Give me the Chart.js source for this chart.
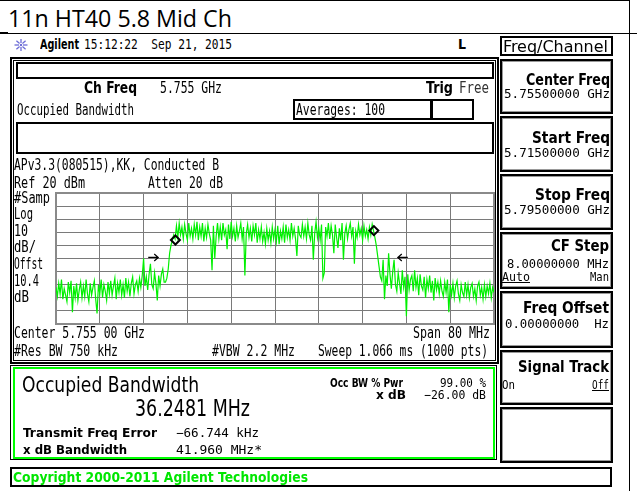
<!DOCTYPE html>
<html><head><meta charset="utf-8">
<script src="https://cdn.jsdelivr.net/npm/chart.js@4.4.1/dist/chart.umd.min.js"></script>
<style>
html,body{margin:0;padding:0;background:#fff;}
#root{position:relative;width:637px;height:491px;overflow:hidden;background:#fff;}
.t{position:absolute;white-space:pre;transform-origin:0 0;}
.b{position:absolute;box-sizing:border-box;}
#plot{position:absolute;left:55px;top:192px;}
</style></head><body><div id="root"><canvas id="plot" width="440" height="133"></canvas></div>
<script>
// ---------- DATA ----------
const freqStartMHz = 5715;
const freqStopMHz = 5795;
const freqDivMHz = 8;
const refLevelDbm = 20;
const bottomLevelDbm = -80;
const dbPerDiv = 10;
// trace, dBm, evenly spaced from start to stop frequency
const traceDbm = [
-52,-59,-49,-57,-46,-61,-53,-58,-63,-48,-56,-47,-71,-51,-60,-49,-62,-54,-48,-60,
-51,-59,-46,-57,-63,-49,-58,-52,-47,-61,-72,-50,-57,-46,-60,-50,-55,-62,-48,-57,
-47,-58,-51,-45,-61,-49,-56,-46,-58,-50,-60,-45,-55,-48,-59,-49,-44,-57,-50,-47,
-55,-45,-52,-43,-30,-51,-44,-54,-42,-34,-50,-53,-41,-49,-62,-43,-51,-42,-38,-48,
-48,-45,-38,-26,-20,-16,-12,-15,-5,-14,-3,-12,-6,-15,-4,-11,-16,-3,-13,-7,
-15,-4,-12,-2,-16,-6,-13,-3,-17,-7,-14,-4,-11,-16,-39,-5,-30,-13,-3,-15,
-6,-16,-3,-12,-8,-23,-4,-15,-2,-13,-7,-17,-5,-14,-9,-3,-15,-6,-43,-11,
-4,-14,-7,-17,-5,-12,-3,-18,-8,-15,-6,-17,-10,-19,-7,-16,-9,-18,-6,-15,
-8,-17,-5,-19,-9,-15,-6,-18,-4,-14,-8,-16,-3,-13,-7,-15,-28,-5,-12,-14,
-4,-13,-6,-15,-3,-12,-16,-5,-31,-11,-2,-14,-7,-16,-4,-45,-41,-6,-13,-3,
-15,-5,-12,-26,-4,-14,-22,-7,-16,-3,-31,-11,-5,-15,-8,-3,-13,-6,-34,-9,
-14,-4,-12,-7,-16,-5,-13,-8,-15,-6,-12,-4,-9,-14,-20,-28,-36,-44,-47,-31,
-61,-43,-51,-26,-42,-53,-40,-31,-50,-55,-41,-49,-57,-39,-52,-44,-74,-42,-54,-46,
-43,-55,-39,-52,-45,-58,-42,-51,-54,-44,-60,-46,-53,-43,-56,-47,-62,-45,-54,-48,
-57,-47,-55,-59,-48,-56,-46,-71,-50,-58,-49,-60,-51,-47,-57,-62,-50,-56,-59,-48,
-58,-50,-60,-52,-49,-59,-53,-62,-51,-48,-58,-52,-61,-50,-59,-51,-57,-49,-60,-52,-56
];
// occupied-bandwidth markers (diamonds), MHz / dBm
const occMarkerMHz = [5736.81, 5773.06];
const occMarkerDbm = [-15.9, -8.7];
// x dB bandwidth arrows, MHz / dBm / direction
const xdbArrowMHz = [5732.76, 5778.34];
const xdbArrowDbm = [-29.2, -29.2];
const xdbArrowDir = [1, -1];

// ---------- LAYOUT HELPERS ----------
const root = document.getElementById('root');
function R(x,y,w,h,css){
  const d=document.createElement('div'); d.className='b';
  d.style.cssText = `left:${x}px;top:${y}px;width:${w}px;height:${h}px;` + (css||'');
  root.appendChild(d); return d;
}
function T(x, base, s, font, w, opt){
  opt = opt || {};
  const el = document.createElement('div');
  el.className = 't';
  el.style.font = font;
  el.style.lineHeight = '0.85';
  el.style.color = opt.color || '#000';
  if (opt.u) el.style.textDecoration = 'underline';
  el.textContent = s;
  const m = document.createElement('span');
  m.style.cssText = 'display:inline-block;width:0;height:0;vertical-align:baseline;';
  el.appendChild(m);
  el.style.left='0px'; el.style.top='0px';
  root.appendChild(el);
  const nat = el.getBoundingClientRect().width;
  const b = m.offsetTop;
  const ww = w || nat;
  const sx = w ? w/nat : 1;
  el.style.left = (opt.r ? x - ww : x) + 'px';
  el.style.top = (base - b) + 'px';
  el.style.transform = `scaleX(${sx})`;
}
const MONO = '"DejaVu Sans Mono", monospace';
const COND = '"DejaVu Sans Condensed", "DejaVu Sans", sans-serif';
const r14 = `15px ${MONO}`;
const b14 = `bold 15px ${COND}`;

// ---------- FRAMES ----------
R(0,0,630,1,'background:#000');
R(629,0,1,491,'background:#000');
R(0,33,637,1,'background:#000');
R(0,32,8,2,'background:#000');
// upper panel
R(10,57,489,307,'border:2px solid #000;box-shadow:inset 0 0 0 1px #fff, inset 0 0 0 2px #000;');
R(16,62,478,17,'border:2px solid #000;');
R(293,99,181,21,'border:2px solid #000;');
R(430,99,3,21,'background:#000;');
R(16,122,478,32,'border:2px solid #000;');
// result box
R(10,365,487,95,'border:1px solid #000;');
R(13,367,482,92,'border:2px solid #00ff00;');
// copyright
R(10,467,602,20,'border:2px solid #000;');
// softkeys
R(500,36,113,20,'border:2px solid #000;');
[[59,55],[116,56],[174,56],[232,57],[291,57],[350,55],[407,56]].forEach(([y,h])=>
  R(500,y,113,h,'border:2px solid #000;box-shadow:inset 0 0 0 1px #999;'));

// star icon
(function(){
  const s = document.createElementNS('http://www.w3.org/2000/svg','svg');
  s.setAttribute('width','16'); s.setAttribute('height','14');
  s.style.cssText='position:absolute;left:13px;top:38px;';
  let p='';
  for(let k=0;k<8;k++){const a=k*Math.PI/4; p+=`<line x1="${8+2*Math.cos(a)}" y1="${7+2*Math.sin(a)}" x2="${8+6.5*Math.cos(a)}" y2="${7+6*Math.sin(a)}" stroke="#6b6bd6" stroke-width="1.3"/>`;}
  p+='<circle cx="8" cy="7" r="1.2" fill="#6b6bd6"/>';
  s.innerHTML=p; root.appendChild(s);
})();

// ---------- TEXT ----------
T(8,27,'11n HT40 5.8 Mid Ch',`24px "Open Sans", "Noto Sans", sans-serif`,224);
T(40,49,'Agilent',`bold 14px ${COND}`,39);
T(84,49,'15:12:22  Sep 21, 2015',`14px ${MONO}`,148);
T(458,49,'L',`bold 14px ${COND}`,8);
T(503,52,'Freq/Channel',`15px ${COND}`,105);

T(84,93,'Ch Freq',b14,53);
T(160,93,'5.755 GHz',r14,62);
T(426,93,'Trig',b14,27);
T(459,93,'Free',r14,30,{color:'#333'});
T(17,115,'Occupied Bandwidth',r14,117);
T(296,115,'Averages: 100',r14,89);
T(14,170,'APv3.3(080515),KK, Conducted B',r14,205);
T(14,188,'Ref 20 dBm',r14,71);
T(148,188,'Atten 20 dB',r14,75);
T(14,203,'#Samp',r14,36);
T(14,219,'Log',r14,19);
T(14,236,'10',r14,14);
T(14,252,'dB/',r14,22);
T(14,269,'Offst',r14,29);
T(14,286,'10.4',r14,25);
T(14,302,'dB',r14,15);
T(14,338,'Center 5.755 00 GHz',r14,131);
T(490,338,'Span 80 MHz',r14,77,{r:1});
T(14,356,'#Res BW 750 kHz',r14,104);
T(212,356,'#VBW 2.2 MHz',r14,83);
T(488,356,'Sweep 1.066 ms (1000 pts)',r14,170,{r:1});

T(22,392,'Occupied Bandwidth',`22px ${COND}`,177);
T(135,416,'36.2481 MHz',`23px ${COND}`,115);
T(403,387,'Occ BW % Pwr',`bold 12px ${COND}`,73,{r:1});
T(486,387,'99.00 %',`12px ${MONO}`,46,{r:1});
T(406,399,'x dB',`bold 12px ${COND}`,30,{r:1});
T(486,399,'\u221226.00 dB',`12px ${MONO}`,62,{r:1});
T(23,437,'Transmit Freq Error',`bold 12px ${COND}`,134);
T(176,437,'\u221266.744 kHz',`12px ${MONO}`,83);
T(23,454,'x dB Bandwidth',`bold 12px ${COND}`,104);
T(176,454,'41.960 MHz*',`12px ${MONO}`,86);
T(13,482,'Copyright 2000-2011 Agilent Technologies',`bold 14px ${COND}`,295,{color:'#00e600'});

const sb = `bold 16px ${COND}`, sv = `13px ${MONO}`;
T(610,85,'Center Freq',sb,84,{r:1});
T(610,98,'5.75500000 GHz',sv,106,{r:1});
T(610,143,'Start Freq',sb,78,{r:1});
T(610,157,'5.71500000 GHz',sv,106,{r:1});
T(610,200,'Stop Freq',sb,75,{r:1});
T(610,214,'5.79500000 GHz',sv,106,{r:1});
T(609,251,'CF Step',sb,58,{r:1});
T(609,268,'8.00000000 MHz',sv,102,{r:1});
T(502,281,'Auto',sv,28,{u:1});
T(609,281,'Man',sv,19,{r:1});
T(609,313,'Freq Offset',sb,86,{r:1});
T(609,328,'0.00000000  Hz',sv,104,{r:1});
T(609,372,'Signal Track',sb,91,{r:1});
T(502,389,'On',sv,13);
T(609,389,'Off',sv,17,{r:1,u:1});

// ---------- CHART ----------
const stepMHz = (freqStopMHz - freqStartMHz) / (traceDbm.length - 1);
const tracePts = traceDbm.map((v,i)=>({x: freqStartMHz + i*stepMHz, y: v}));
const markerPts = occMarkerMHz.map((f,i)=>({x:f, y:occMarkerDbm[i]}));

const frame = { id:'frame', beforeDatasetsDraw(chart){
  const {ctx, chartArea:a} = chart; ctx.save();
  ctx.strokeStyle='#8a8a8a'; ctx.lineWidth=2;
  ctx.strokeRect(a.left, a.top, a.right-a.left, a.bottom-a.top); ctx.restore(); } };
const arrows = { id:'arrows', afterDatasetsDraw(chart){
  const {ctx, scales:{x,y}} = chart; ctx.save();
  ctx.strokeStyle='#000'; ctx.lineWidth=1.2;
  xdbArrowMHz.forEach((f,i)=>{
    const px=x.getPixelForValue(f), py=y.getPixelForValue(xdbArrowDbm[i]), d=xdbArrowDir[i];
    const tip=px+5*d;
    ctx.beginPath(); ctx.moveTo(px-5*d,py); ctx.lineTo(tip,py);
    ctx.moveTo(tip-4*d,py-3.5); ctx.lineTo(tip,py); ctx.lineTo(tip-4*d,py+3.5); ctx.stroke();
  }); ctx.restore(); } };

const gridOpt = {color:'#7a7a7a', lineWidth:1, drawTicks:false, tickLength:0};
new Chart(document.getElementById('plot'), {
  type:'scatter',
  data:{ datasets:[
    { data: markerPts, pointStyle:'rectRot', pointRadius:4.5, borderColor:'#000', borderWidth:2,
      backgroundColor:'rgba(0,0,0,0)', showLine:false, order:0, clip:false },
    { data: tracePts, showLine:true, borderColor:'#00f000', borderWidth:1.2, pointRadius:0, fill:false, order:1 }
  ]},
  options:{
    responsive:false, animation:false, devicePixelRatio:1, events:[],
    layout:{padding:1, autoPadding:false},
    plugins:{legend:{display:false}, tooltip:{enabled:false}},
    scales:{
      x:{type:'linear', min:freqStartMHz, max:freqStopMHz, ticks:{display:false, stepSize:freqDivMHz},
         grid:gridOpt, border:{display:false}},
      y:{type:'linear', min:bottomLevelDbm, max:refLevelDbm, ticks:{display:false, stepSize:dbPerDiv},
         grid:gridOpt, border:{display:false}}
    }
  },
  plugins:[frame, arrows]
});
</script></body></html>
